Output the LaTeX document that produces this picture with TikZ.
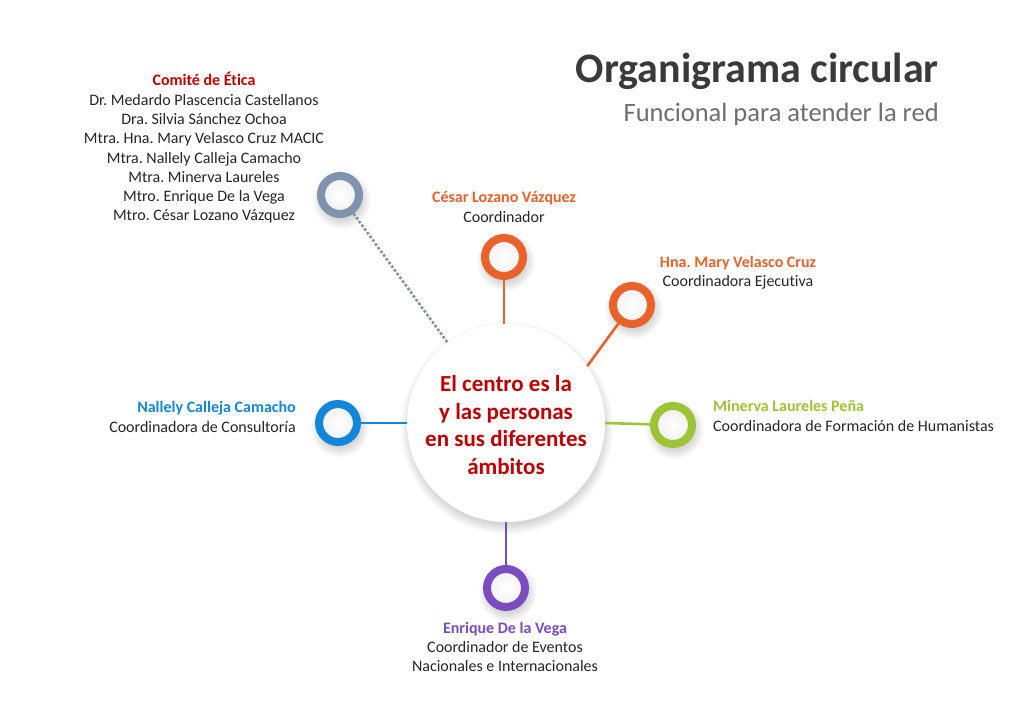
\documentclass[tikz,border=0pt]{standalone}
\usepackage{fontspec}
\setmainfont[Ligatures=NoCommon]{Carlito}
\definecolor{dred}{HTML}{C00000}
\definecolor{corange}{HTML}{E8622A}
\definecolor{cgreen}{HTML}{9CC434}
\definecolor{cblue}{HTML}{1287DA}
\definecolor{cpurple}{HTML}{7A4CC0}
\definecolor{cgray}{HTML}{8093AE}
\definecolor{ctitle}{HTML}{3A3A3A}
\definecolor{csub}{HTML}{6E6E6E}
\definecolor{ctext}{HTML}{262626}
\tikzset{
  ring/.style={circle, draw=#1, line width=8pt, minimum size=38pt, inner sep=0pt,
    inner color=white, outer color=gray!12},
  conn/.style={draw=#1, line width=2.6pt},
  lbl/.style={font=\fontsize{16}{19.3}\selectfont, text=ctext, inner sep=0pt},
}
\newcommand{\softshadow}[3]{%
  \foreach \k in {0,...,7}{
    \fill[black, opacity=0.02] (#1+1,#2+5) circle ({#3+\k*1.3});
  }}
\begin{document}
\frenchspacing
\begin{tikzpicture}[x=1pt,y=-1pt]
\useasboundingbox (0,0) rectangle (1021,720);
\fill[white] (0,0) rectangle (1021,720);

% title
\node[anchor=base east, inner sep=0pt, text=ctitle, font=\fontsize{42}{48}\selectfont\bfseries] (title) at (939,82) {Organigrama circular};
\node[anchor=base east, inner sep=0pt, text=csub, font=\fontsize{26.5}{31}\selectfont] (subtitle) at (939,121) {Funcional para atender la red};

% shadows
\softshadow{506}{423}{97}
\softshadow{341}{195}{20}
\softshadow{505}{257}{20}
\softshadow{633}{305}{20}
\softshadow{674}{425}{20}
\softshadow{339}{423}{20}
\softshadow{507}{588}{20}

% center
\node[circle, fill=white, minimum size=198pt, inner sep=0pt] (center) at (506,423) {};
\node[text=dred, font=\fontsize{23}{27.5}\selectfont\bfseries, align=center, inner sep=0pt] (ctext) at (506,425)
  {El centro es la\\y las personas\\en sus diferentes\\ámbitos};

% rings
\node[ring=cgray] (comite) at (340,195) {};
\node[ring=corange] (cesar) at (504,257) {};
\node[ring=corange] (mary) at (632,305) {};
\node[ring=cgreen] (minerva) at (673,425) {};
\node[ring=cblue] (nallely) at (338,423) {};
\node[ring=cpurple] (enrique) at (506,588) {};

% connectors
\draw[cgray, line width=2.6pt, dotted] (comite) -- (center.126);
\draw[conn=corange] (cesar.south) -- (cesar.south |- center.north);
\draw[conn=corange] (mary) -- (center.35);
\draw[conn=cgreen] (center.east) -- (minerva);
\draw[conn=cblue] (nallely) -- (center.west);
\draw[conn=cpurple] (center.south) -- (enrique);

% labels
\node[lbl, align=center] (comitetxt) at (204,148)
  {\textcolor{dred}{\bfseries Comité de Ética}\\
   Dr. Medardo Plascencia Castellanos\\
   Dra. Silvia Sánchez Ochoa\\
   Mtra. Hna. Mary Velasco Cruz MACIC\\
   Mtra. Nallely Calleja Camacho\\
   Mtra. Minerva Laureles\\
   Mtro. Enrique De la Vega\\
   Mtro. César Lozano Vázquez};
\node[lbl, align=center] (cesartxt) at (504,207)
  {\textcolor{corange}{\bfseries César Lozano Vázquez}\\Coordinador};
\node[lbl, align=center] (marytxt) at (738,273)
  {\textcolor{corange}{\bfseries Hna. Mary Velasco Cruz}\\Coordinadora Ejecutiva};
\node[lbl, align=left, anchor=west] (minervatxt) at (713,416)
  {\textcolor{cgreen}{\bfseries Minerva Laureles Peña}\\Coordinadora de Formación de Humanistas};
\node[lbl, align=right, anchor=east] (nallelytxt) at (296,417)
  {\textcolor{cblue}{\bfseries Nallely Calleja Camacho}\\Coordinadora de Consultoría};
\node[lbl, align=center] (enriquetxt) at (505,647)
  {\textcolor{cpurple}{\bfseries Enrique De la Vega}\\Coordinador de Eventos\\Nacionales e Internacionales};
\end{tikzpicture}
\end{document}
